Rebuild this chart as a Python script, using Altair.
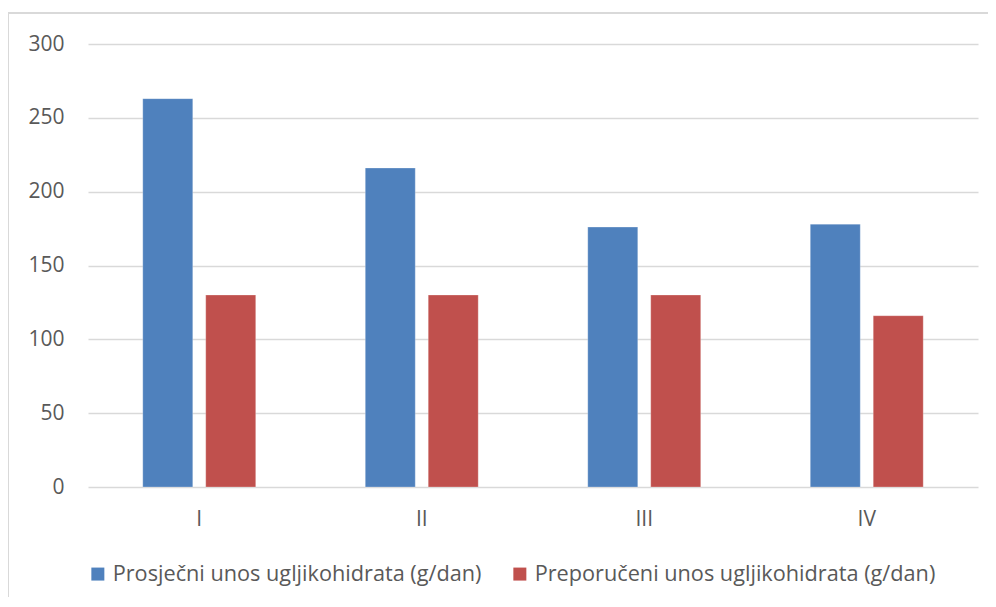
import altair as alt
import pandas as pd

categories = ["I", "II", "III", "IV"]
series_names = [
    "Prosječni unos ugljikohidrata (g/dan)",
    "Preporučeni unos ugljikohidrata (g/dan)",
]
prosjecni = [263, 216, 176, 178]
preporuceni = [130, 130, 130, 116]
colors = ["#4F81BD", "#C0504D"]
y_ticks = [0, 50, 100, 150, 200, 250, 300]

rows = []
for c, a, b in zip(categories, prosjecni, preporuceni):
    rows.append({"kat": c, "serija": series_names[0], "vrijednost": a})
    rows.append({"kat": c, "serija": series_names[1], "vrijednost": b})
df = pd.DataFrame(rows)

FONT = "Open Sans"
GREY = "#595959"

bars = alt.Chart(df).mark_bar(stroke="#FFFFFF", strokeOpacity=0.5, strokeWidth=0.5).encode(
    x=alt.X(
        "kat:N",
        sort=categories,
        title=None,
        scale=alt.Scale(paddingInner=0, paddingOuter=0),
        axis=alt.Axis(
            labelAngle=0,
            domain=False,
            ticks=False,
            grid=False,
            labelPadding=21,
            labelFont=FONT,
            labelFontSize=21,
            labelColor=GREY,
        ),
    ),
    xOffset=alt.XOffset(
        "serija:N",
        sort=series_names,
        scale=alt.Scale(paddingInner=0.206, paddingOuter=0.87),
    ),
    y=alt.Y(
        "vrijednost:Q",
        title=None,
        scale=alt.Scale(domain=[0, 300], nice=False),
        axis=alt.Axis(
            values=y_ticks,
            domain=False,
            ticks=False,
            grid=True,
            gridColor="#D9D9D9",
            gridWidth=1.3,
            labelPadding=24,
            labelFont=FONT,
            labelFontSize=21,
            labelColor=GREY,
        ),
    ),
    color=alt.Color(
        "serija:N",
        sort=series_names,
        scale=alt.Scale(domain=series_names, range=colors),
        legend=alt.Legend(
            title=None,
            orient="none",
            direction="horizontal",
            legendX=-1,
            legendY=519,
            symbolType="square",
            symbolSize=169,
            symbolStrokeWidth=0,
            labelOffset=4,
            labelLimit=1000,
            columnPadding=27,
            labelFont=FONT,
            labelFontSize=21.7,
            labelColor=GREY,
        ),
    ),
)

border = alt.Chart(alt.Data(values=[{}])).mark_rect(
    fill=None, stroke="#D9D9D9", strokeWidth=2
).encode(
    x=alt.value(-80),
    x2=alt.value(1100),
    y=alt.value(-31),
    y2=alt.value(800),
)

chart = alt.layer(border, bars).properties(
    width=890,
    height=443,
    autosize=alt.AutoSizeParams(type="none"),
    padding={"left": 80, "top": 36, "right": 10, "bottom": 110},
    background="#FFFFFF",
).configure_view(stroke=None)

chart.save("out.html", embed_options={"renderer": "svg", "actions": False})
